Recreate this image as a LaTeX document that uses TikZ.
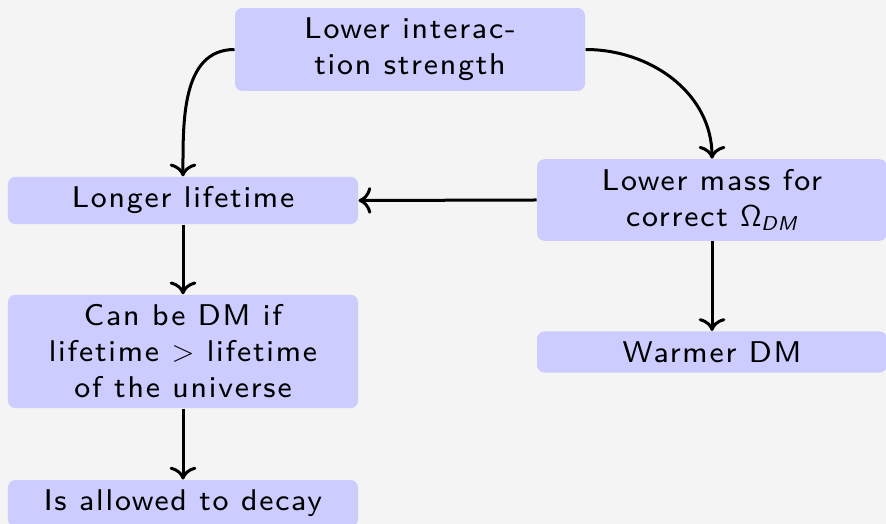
\documentclass[tikz,border=0pt]{standalone}
\usepackage[no-math]{fontspec}
\setsansfont{lmsans8-regular.otf}[ItalicFont=lmsans8-oblique.otf,LetterSpace=6]
\usepackage{amsmath}
\usetikzlibrary{arrows.meta}
\definecolor{bg}{HTML}{F4F4F4}
\definecolor{boxfill}{HTML}{CCCCFF}
\tikzset{
  box/.style={fill=boxfill, rounded corners=3pt, minimum width=140pt,
    inner sep=4pt, align=center,
    font=\sffamily\fontsize{12}{14.4}\selectfont},
  conn/.style={line width=1.2pt, -{To[scale=1.2]}}
}
\begin{document}
\begin{tikzpicture}[x=0.4pt,y=-0.4pt]
\fill[bg] (0,0) rectangle (886,524);
\useasboundingbox (0,0) rectangle (886,524);
\node[box] (top) at (410,49.5) {Lower interac-\\tion strength};
\node[box] (ll) at (183,200.5) {Longer lifetime};
\node[box] (lm) at (712,200) {Lower mass for\\correct $\mathsf{\Omega}_{\text{\itshape DM}}$};
\node[box] (warm) at (712,352) {Warmer DM};
\node[box] (can) at (183,351.5) {Can be DM if\\lifetime $>$ lifetime\\of the universe};
\node[box] (decay) at (183,503.5) {Is allowed to decay};
\draw[conn] (top.west) to[out=180,in=90] (ll.north);
\draw[conn] (top.east) to[out=0,in=90] (lm.north);
\draw[conn] (lm.west) -- (ll.east);
\draw[conn] (ll.south) -- (can.north);
\draw[conn] (can.south) -- (decay.north);
\draw[conn] (lm.south) -- (warm.north);
\end{tikzpicture}
\end{document}
